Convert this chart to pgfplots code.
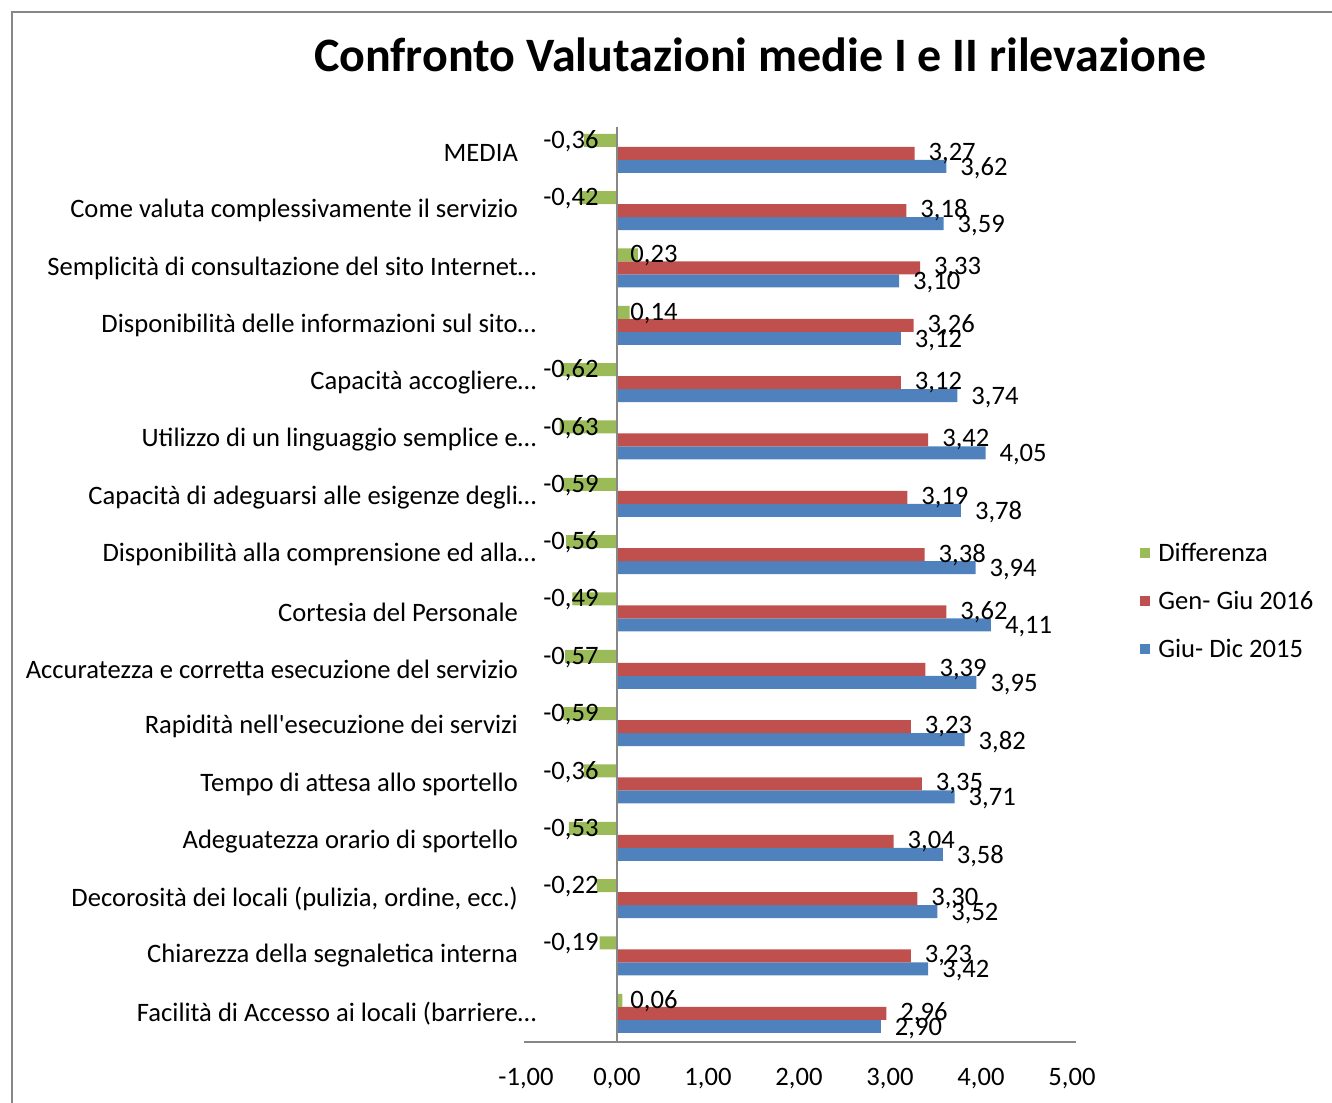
\documentclass[border=0pt]{standalone}
\usepackage{fontspec}
\setmainfont{Carlito}
\usepackage{pgfplots}
\pgfplotsset{compat=1.18}
\usepackage{pgfplotstable}
\definecolor{cblue}{HTML}{4F81BD}
\definecolor{cred}{HTML}{C0504D}
\definecolor{cgreen}{HTML}{9BBB59}
\definecolor{cline}{HTML}{878787}

\pgfplotstableread{
y blue red g
0 2.90 2.96 0.06
1 3.42 3.23 -0.19
2 3.52 3.30 -0.22
3 3.58 3.04 -0.53
4 3.71 3.35 -0.36
5 3.82 3.23 -0.59
6 3.95 3.39 -0.57
7 4.11 3.62 -0.49
8 3.94 3.38 -0.56
9 3.78 3.19 -0.59
10 4.05 3.42 -0.63
11 3.74 3.12 -0.62
12 3.12 3.26 0.14
13 3.10 3.33 0.23
14 3.59 3.18 -0.42
15 3.62 3.27 -0.36
}\datatable

\begin{document}
\begin{tikzpicture}[font=\fontsize{13.3}{16}\selectfont]
\begin{axis}[
  at={(0,0)}, anchor=south west,
  width=273pt, height=458.7pt, scale only axis,
  xmin=-1, xmax=5, ymin=-0.5, ymax=15.5,
  xtick={-1,0,...,5},
  ytick={0,...,15},
  yticklabels={
    {Facilità di Accesso ai locali (barriere\rlap{…}},
    {Chiarezza della segnaletica interna},
    {Decorosità dei locali (pulizia, ordine, ecc.)},
    {Adeguatezza orario di sportello},
    {Tempo di attesa allo sportello},
    {Rapidità nell\textquotesingle esecuzione dei servizi},
    {Accuratezza e corretta esecuzione del servizio},
    {Cortesia del Personale},
    {Disponibilità alla comprensione ed alla\rlap{…}},
    {Capacità di adeguarsi alle esigenze degli\rlap{…}},
    {Utilizzo di un linguaggio semplice e\rlap{…}},
    {Capacità accogliere\rlap{…}},
    {Disponibilità delle informazioni sul sito\rlap{…}},
    {Semplicità di consultazione del sito Internet\rlap{…}},
    {Come valuta complessivamente il servizio},
    {MEDIA}},
  axis line style={draw=none},
  major tick length=0pt,
  tick style={draw=none},
  xticklabel style={yshift=-9.5pt},
  yticklabel style={anchor=east, xshift=-0.5pt},
  /pgf/number format/fixed,
  /pgf/number format/fixed zerofill,
  /pgf/number format/precision=2,
  /pgf/number format/use comma,
  /pgf/number format/assume math mode=true,
  legend style={draw=none, fill=none, at={(1.1245,0.4808)}, anchor=west,
    inner sep=0pt, row sep=13.4pt, column sep=4pt,
    nodes={inner sep=0pt, text height=9.6pt, text depth=1pt}},
  legend cell align=left,
  reverse legend,
  legend image code/.code={\fill[#1] (0pt,-2.5pt) rectangle (5pt,2.5pt);},
  clip=false,
]
\addplot[xbar, bar width=6.5pt, bar shift=-6.5pt, fill=cblue, draw=none,
  point meta=x, nodes near coords,
  every node near coord/.append style={anchor=west, xshift=3.5pt, yshift=-7.5pt, text=black}]
  table[x=blue, y=y]{\datatable};
\addlegendentry{Giu- Dic 2015}
\addplot[xbar, bar width=6.5pt, bar shift=0pt, fill=cred, draw=none,
  point meta=x, nodes near coords,
  every node near coord/.append style={anchor=west, xshift=3.5pt, yshift=0pt, text=black}]
  table[x=red, y=y]{\datatable};
\addlegendentry{Gen- Giu 2016}
\addplot[xbar, bar width=6.5pt, bar shift=6.5pt, fill=cgreen, draw=none]
  table[x=g, y=y]{\datatable};
\addlegendentry{Differenza}
% labels of the differences, set beside the zero line
\addplot[draw=none, mark=none, forget plot, point meta=\thisrow{g}, nodes near coords,
  restrict expr to domain={\thisrow{g}}{-10:-0.001},
  every node near coord/.append style={anchor=east, xshift=-5.7pt, yshift=6pt, text=black}]
  table[x expr=0, y=y]{\datatable};
\addplot[draw=none, mark=none, forget plot, point meta=\thisrow{g}, nodes near coords,
  restrict expr to domain={\thisrow{g}}{0:10},
  every node near coord/.append style={anchor=west, xshift=3.2pt, yshift=6pt, text=black}]
  table[x expr=0, y=y]{\datatable};
\draw[cline, line width=1pt] (axis cs:0,-0.5) -- (axis cs:0,15.45);
\draw[cline, line width=1pt] ([xshift=-1pt]rel axis cs:0,0) -- ([xshift=2pt]rel axis cs:1,0);
\end{axis}
\node[font=\fontsize{24}{28}\selectfont\bfseries] at (117pt,493.5pt) {Confronto Valutazioni medie I e II rilevazione};
\draw[cline, line width=1.2pt] (-257pt,-40pt) -- (-257pt,515pt) -- (420pt,515pt);
\pgfresetboundingbox
\path[use as bounding box] (-263pt,-30pt) rectangle (403pt,521pt);
\end{tikzpicture}
\end{document}
